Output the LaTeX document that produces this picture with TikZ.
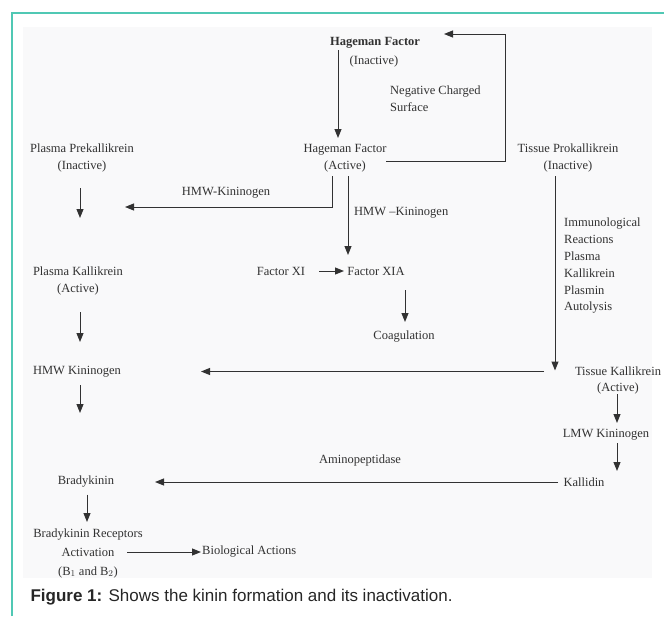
\documentclass[tikz,border=0pt]{standalone}
\usepackage{fontspec}
\setmainfont{Liberation Serif}
\newfontfamily\capfont{Liberation Sans}
\usepackage{tikz}
\usetikzlibrary{arrows.meta}
\definecolor{frameteal}{RGB}{80,200,180}
\definecolor{scan}{RGB}{249,249,250}
\definecolor{ink}{RGB}{50,50,50}
\tikzset{l/.style={font=\fontsize{12.5}{17}\selectfont, text=ink, inner sep=1pt}}
\tikzset{ar/.style={draw=ink, line width=1pt, -{Triangle[length=9pt,width=7pt]}}}

\begin{document}
\begin{tikzpicture}[x=1pt,y=-1pt]
  \useasboundingbox (0,0) rectangle (664,616);
  \fill[scan] (23,27) rectangle (652,578);
  \draw[frameteal, line width=2pt] (12,616) -- (12,13) -- (664,13);
  % Hageman factor and its feedback
  \node[l] (HFI) at (375,43) {\textbf{Hageman Factor}};
  \node[l] (HFIs) at (374,61) {(Inactive)};
  \node[l, align=left, anchor=west] (NCS) at (389,98.5) {Negative Charged\\Surface};
  \node[l, align=center] (HFA) at (345,158) {Hageman Factor\\(Active)};
  \node[l, align=center] (PPK) at (82,158) {Plasma Prekallikrein\\(Inactive)};
  \node[l, align=center] (TPK) at (568,158) {Tissue Prokallikrein\\(Inactive)};
  \node[l] (HMW1) at (226,193) {HMW-Kininogen};
  \node[l, anchor=west] (HMW2) at (353,213) {HMW --Kininogen};
  \node[l, align=center] (PK) at (78,280.5) {Plasma Kallikrein\\(Active)};
  \node[l] (FXI) at (281,271) {Factor XI};
  \node[l] (FXIA) at (376,271) {Factor XIA};
  \node[l] (COAG) at (404,337) {Coagulation};
  \node[l, align=left, anchor=west, font=\fontsize{12.5}{16.8}\selectfont] (IMM) at (563,266)
    {Immunological\\Reactions\\Plasma\\Kallikrein\\Plasmin\\Autolysis};
  \node[l] (HMWK) at (77,371.5) {HMW Kininogen};
  \node[l] (TK) at (618,371.5) {Tissue Kallikrein};
  \node[l] (TKs) at (618,388) {(Active)};
  \node[l] (LMW) at (606,435) {LMW Kininogen};
  \node[l] (KAL) at (584,482) {Kallidin};
  \node[l] (AMP) at (360,460) {Aminopeptidase};
  \node[l] (BK) at (86,482) {Bradykinin};
  \node[l, align=center, font=\fontsize{12.5}{19}\selectfont] (BKR) at (88,553)
    {Bradykinin Receptors\\Activation\\(B$_1$ and B$_2$)};
  \node[l, anchor=west] (BIO) at (201,552) {Biological Actions};
  \node[anchor=west, font=\capfont\fontsize{17}{20}\selectfont, text=black!85] (CAP) at (27,597)
    {\textbf{Figure 1:} Shows the kinin formation and its inactivation.};
  % connectors
  \draw[ar] ([xshift=-37pt,yshift=-7pt]HFI.center) -- ([xshift=-7pt,yshift=20pt]HFA.center);
  \draw[ar] ([xshift=41pt,yshift=-3pt]HFA.center) -- ++(119,0) |- ([xshift=69pt,yshift=9pt]HFI.center);
  \draw[ar] ([xshift=-13pt,yshift=-18pt]HFA.center) |- ([xshift=43pt,yshift=-49pt]PPK.center);
  \draw[ar] ([xshift=3pt,yshift=-18pt]HFA.center) -- ([xshift=-28pt,yshift=16pt]FXIA.center);
  \draw[ar] ([xshift=-2pt,yshift=-30pt]PPK.center) -- ([xshift=2pt,yshift=62.5pt]PK.center);
  \draw[ar] ([xshift=2pt,yshift=-31.5pt]PK.center) -- ([xshift=3pt,yshift=29.5pt]HMWK.center);
  \draw[ar] ([xshift=3pt,yshift=-13.5pt]HMWK.center) -- ([xshift=-6pt,yshift=69pt]BK.center);
  \draw[ar] ([xshift=1pt,yshift=-12.5pt]BK.center) -- ([xshift=-1pt,yshift=31pt]BKR.center);
  \draw[ar] ([xshift=39pt,yshift=1pt]BKR.center) -- (BIO.west);
  \draw[ar] ([xshift=38pt]FXI.center) -- ([xshift=-32pt]FXIA.center);
  \draw[ar] ([xshift=29pt,yshift=-19pt]FXIA.center) -- ([xshift=1pt,yshift=15pt]COAG.center);
  \draw[ar] ([xshift=-13pt,yshift=-18pt]TPK.center) -- ([xshift=-63pt,yshift=1pt]TK.center);
  \draw[ar] ([xshift=-74pt]TK.center) -- ([xshift=124pt]HMWK.center);
  \draw[ar] ([xshift=-1pt,yshift=-6pt]TKs.center) -- ([xshift=11pt,yshift=12pt]LMW.center);
  \draw[ar] ([xshift=11pt,yshift=-8pt]LMW.center) -- ([xshift=33pt,yshift=11pt]KAL.center);
  \draw[ar] ([xshift=-26pt]KAL.center) -- ([xshift=69pt]BK.center);
\end{tikzpicture}
\end{document}
